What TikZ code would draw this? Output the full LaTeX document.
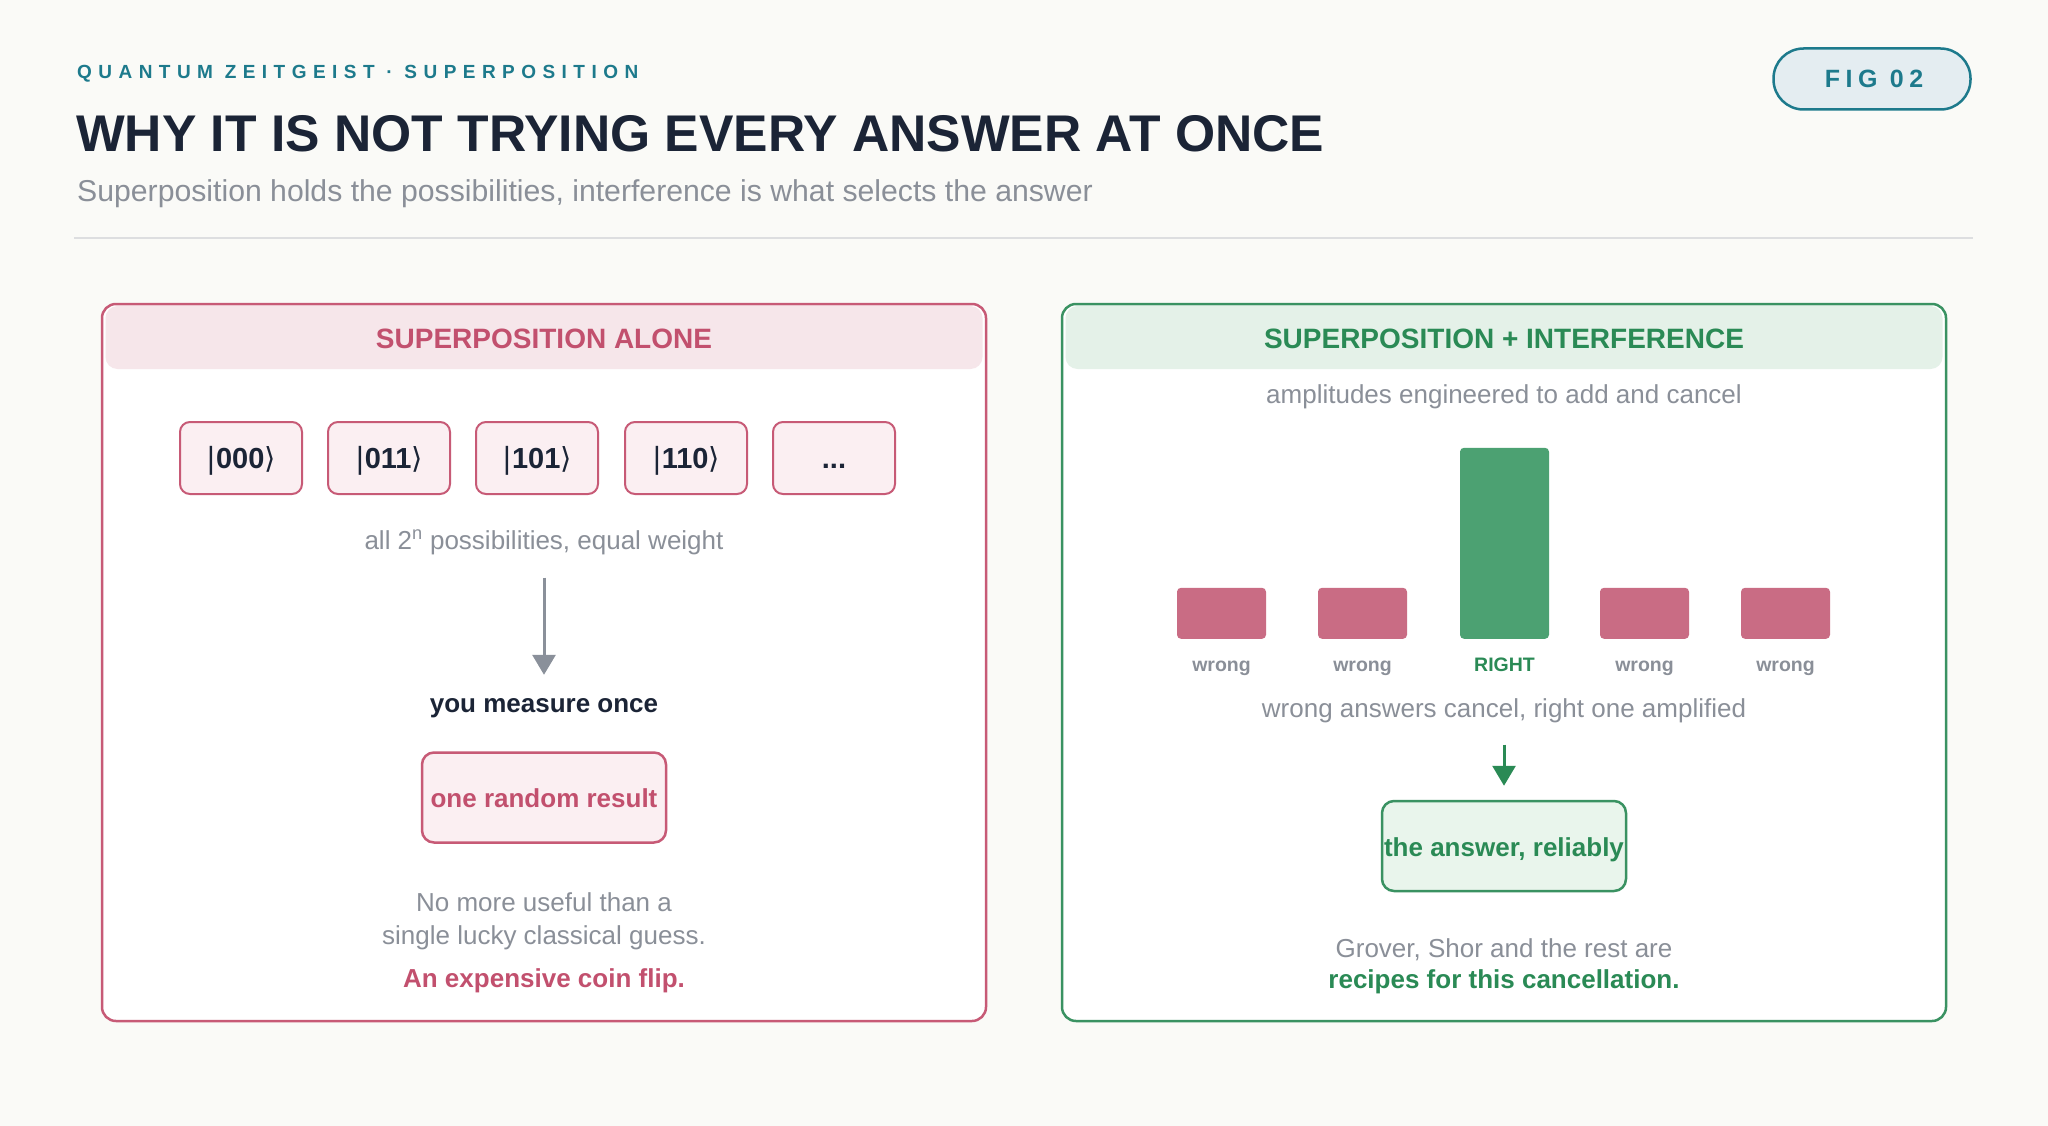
\documentclass[tikz,border=0pt]{standalone}
\usepackage{fontspec}
\setmainfont{Liberation Sans}
\newfontfamily\djv{DejaVu Sans}
\usetikzlibrary{arrows.meta}
\definecolor{bgc}{HTML}{FAFAF7}
\definecolor{qteal}{HTML}{1D7A8C}
\definecolor{qnavy}{HTML}{1B2436}
\definecolor{qgrey}{HTML}{8A8F98}
\definecolor{qline}{HTML}{DDDEE0}
\definecolor{pillf}{HTML}{E4EDF1}
\definecolor{crim}{HTML}{C2506E}
\definecolor{crimb}{HTML}{C75A76}
\definecolor{crimh}{HTML}{F6E6EA}
\definecolor{crimf}{HTML}{FBEFF2}
\definecolor{wbarc}{HTML}{C96C84}
\definecolor{grn}{HTML}{2A8A55}
\definecolor{grnb}{HTML}{3A9262}
\definecolor{grnh}{HTML}{E4F1E8}
\definecolor{grnf}{HTML}{E9F5EC}
\definecolor{gbarc}{HTML}{4CA172}
\definecolor{arrg}{HTML}{8A909A}
\newcommand{\ketx}[1]{{\djv\mdseries|}#1{\djv\mdseries ⟩}}
\begin{document}
\begin{tikzpicture}[x=1pt,y=-1pt,
  txt/.style={inner sep=0pt, anchor=base},
  captxt/.style={txt, text=qgrey, font=\fontsize{26}{26}\selectfont},
  boldtxt/.style={txt, font=\bfseries\fontsize{26}{26}\selectfont},
  panel/.style={fill=white, line width=2.5pt, rounded corners=14pt, minimum width=884pt, minimum height=717pt, inner sep=0pt},
  headband/.style={rounded corners=12pt, minimum width=877pt, minimum height=63pt, inner sep=0pt},
  headtxt/.style={txt, font=\bfseries\fontsize{28}{28}\selectfont},
  ket/.style={draw=crimb, fill=crimf, line width=2pt, rounded corners=10pt, minimum width=122pt, minimum height=72pt, inner sep=0pt, text height=21pt, text depth=0pt, text=qnavy, font=\bfseries\fontsize{29}{29}\selectfont},
  resbox/.style={line width=2.5pt, rounded corners=12pt, minimum width=244pt, minimum height=90pt, inner sep=0pt, text height=20pt, text depth=0pt, font=\bfseries\fontsize{26}{26}\selectfont},
  bar/.style={anchor=south, rounded corners=4pt, minimum width=89pt, inner sep=0pt},
  barlab/.style={txt, font=\bfseries\fontsize{19.5}{19.5}\selectfont},
  arr/.style={line width=3pt, -{Triangle[length=20pt,width=23pt]}}
]
\fill[bgc] (0,0) rectangle (2048,1126);
\useasboundingbox (0,0) rectangle (2048,1126);

% header
\node[txt, anchor=base west, text=qteal, font=\bfseries\fontsize{19}{19}\selectfont\addfontfeatures{LetterSpace=34}] (kick) at (77,79) {QUANTUM ZEITGEIST · SUPERPOSITION};
\node[txt, anchor=base west, text=qnavy, font=\bfseries\fontsize{51.6}{51.6}\selectfont] (title) at (76,152) {WHY IT IS NOT TRYING EVERY ANSWER AT ONCE};
\node[txt, anchor=base west, text=qgrey, font=\fontsize{30.2}{30.2}\selectfont] (sub) at (77,202) {Superposition holds the possibilities, interference is what selects the answer};
\draw[qline, line width=1.5pt] (74,238) -- (1973,238);

% fig pill
\node[draw=qteal, fill=pillf, line width=2.5pt, rounded corners=30pt, minimum width=197pt, minimum height=61pt, inner sep=0pt] (fig) at (1872,79) {};
\node[txt, text=qteal, font=\bfseries\fontsize{25}{25}\selectfont\addfontfeatures{LetterSpace=22}] (figt) at (1874,88) {FIG 02};

% left panel
\node[panel, draw=crimb] (lpanel) at (544,662.5) {};
\node[headband, fill=crimh] (lhead) at (544,337.5) {};
\node[headtxt, text=crim] (lheadt) at (544,348) {SUPERPOSITION ALONE};

\node[ket] (k1) at (241,458) {\ketx{000}};
\node[ket] (k2) at (389,458) {\ketx{011}};
\node[ket] (k3) at (537,458) {\ketx{101}};
\node[ket] (k4) at (686,458) {\ketx{110}};
\node[ket] (k5) at (834,458) {...};

\node[captxt] (cap1) at (544,549) {all 2\textsuperscript{n} possibilities, equal weight};
\node[boldtxt, text=qnavy] (meas) at (544,712) {you measure once};
\draw[arr, arrg, shorten <=23pt, shorten >=23pt] (cap1.south) -- (meas.north);

\node[resbox, draw=crimb, fill=crimf, text=crim] (res) at (544,797.5) {one random result};

\node[captxt] (l1) at (544,911) {No more useful than a};
\node[captxt] (l2) at (544,944) {single lucky classical guess.};
\node[boldtxt, text=crim] (l3) at (544,987) {An expensive coin flip.};

% right panel
\node[panel, draw=grnb] (rpanel) at (1504,662.5) {};
\node[headband, fill=grnh] (rhead) at (1504,337.5) {};
\node[headtxt, text=grn] (rheadt) at (1504,348) {SUPERPOSITION + INTERFERENCE};
\node[captxt] (amp) at (1504,403) {amplitudes engineered to add and cancel};

\node[bar, fill=wbarc, minimum height=51pt] (b1) at (1221.5,639) {};
\node[bar, fill=wbarc, minimum height=51pt] (b2) at (1362.5,639) {};
\node[bar, fill=gbarc, minimum height=191pt] (b3) at (1504.5,639) {};
\node[bar, fill=wbarc, minimum height=51pt] (b4) at (1644.5,639) {};
\node[bar, fill=wbarc, minimum height=51pt] (b5) at (1785.5,639) {};

\node[barlab, text=qgrey] (w1) at (1221.5,671) {wrong};
\node[barlab, text=qgrey] (w2) at (1362.5,671) {wrong};
\node[barlab, text=grn] (w3) at (1504.5,671) {RIGHT};
\node[barlab, text=qgrey] (w4) at (1644.5,671) {wrong};
\node[barlab, text=qgrey] (w5) at (1785.5,671) {wrong};

\node[captxt] (cap2) at (1504,717) {wrong answers cancel, right one amplified};
\node[resbox, draw=grnb, fill=grnf, text=grn] (ans) at (1504,846) {the answer, reliably};
\draw[arr, grn, shorten <=22pt, shorten >=14pt] (cap2.south) -- (ans.north);

\node[captxt] (r1) at (1504,957) {Grover, Shor and the rest are};
\node[boldtxt, text=grn] (r2) at (1504,988) {recipes for this cancellation.};
\end{tikzpicture}
\end{document}
